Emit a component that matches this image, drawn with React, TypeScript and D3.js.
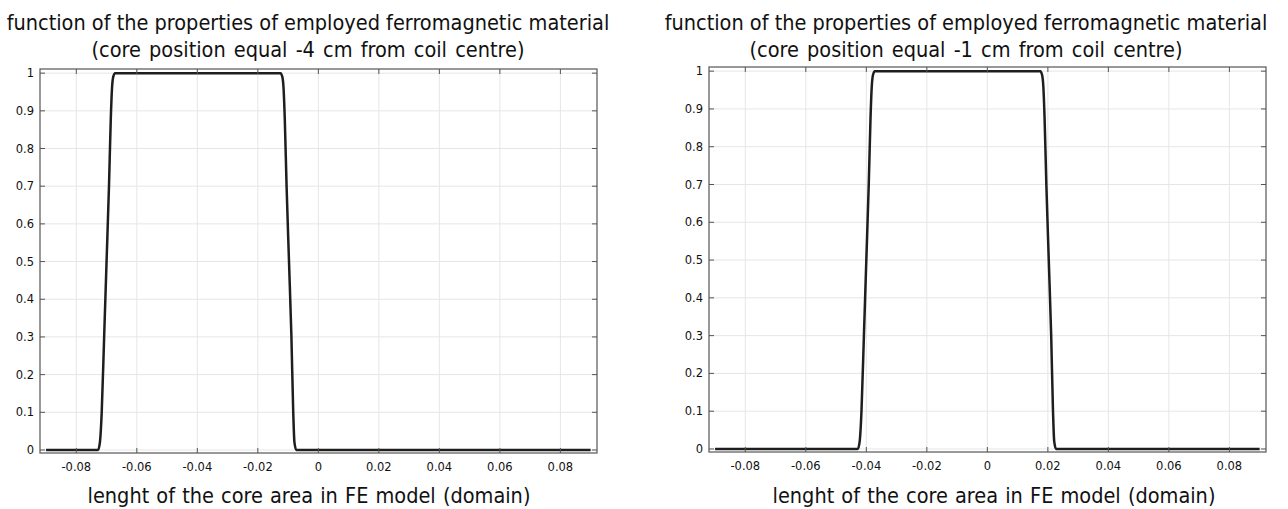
import * as React from "react";
import * as d3 from "d3";

// x positions of the sampled curve (m) and the relative permeability factor
const posLeft = [-0.09, -0.0728, -0.0722, -0.0716, -0.0708, -0.07, -0.0692, -0.0686, -0.0682, -0.0678, -0.0672, -0.0125, -0.0119, -0.0115, -0.0111, -0.0105, -0.0097, -0.0089, -0.0083, -0.0079, -0.0073, 0.09];
const valLeft = [0, 0, 0.02, 0.1, 0.3, 0.5, 0.7, 0.88, 0.96, 0.99, 1, 1, 0.99, 0.96, 0.88, 0.7, 0.5, 0.3, 0.1, 0.02, 0, 0];

const posRight = [-0.09, -0.0428, -0.0422, -0.0416, -0.0408, -0.04, -0.0392, -0.0386, -0.0382, -0.0378, -0.0372, 0.0175, 0.0181, 0.0185, 0.0189, 0.0195, 0.0203, 0.0211, 0.0217, 0.0221, 0.0227, 0.09];
const valRight = [0, 0, 0.02, 0.1, 0.3, 0.5, 0.7, 0.88, 0.96, 0.99, 1, 1, 0.99, 0.96, 0.88, 0.7, 0.5, 0.3, 0.1, 0.02, 0, 0];

const xTicks = [-0.08, -0.06, -0.04, -0.02, 0, 0.02, 0.04, 0.06, 0.08];
const xTickLabels = ["-0.08", "-0.06", "-0.04", "-0.02", "0", "0.02", "0.04", "0.06", "0.08"];
const yTicks = [0, 0.1, 0.2, 0.3, 0.4, 0.5, 0.6, 0.7, 0.8, 0.9, 1];
const yTickLabels = ["0", "0.1", "0.2", "0.3", "0.4", "0.5", "0.6", "0.7", "0.8", "0.9", "1"];

const titleLine1 = "function of the properties of employed ferromagnetic material";
const titleLeft = "(core position equal -4 cm from coil centre)";
const titleRight = "(core position equal -1 cm from coil centre)";
const xLabel = "lenght of the core area in FE model (domain)";

const titleFont = "'DejaVu Sans Condensed', sans-serif";
const tickFont = "'DejaVu Sans', Verdana, sans-serif";

interface PanelProps {
  xs: number[];
  ys: number[];
  subtitle: string;
  left: number;
  right: number;
  top: number;
  bottom: number;
  titleX: number;
  labelX: number;
}

const Panel = ({ xs, ys, subtitle, left, right, top, bottom, titleX, labelX }: PanelProps) => {
  const x = d3.scaleLinear().domain([-0.092, 0.0921]).range([left, right]);
  const y = d3.scaleLinear().domain([-0.008, 1.011]).range([bottom, top]);
  const pts = xs.map((v, i) => [v, ys[i]] as [number, number]);
  const line = d3
    .line<[number, number]>()
    .x((d) => x(d[0]))
    .y((d) => y(d[1]))
    .curve(d3.curveMonotoneX);
  const tk = 5;
  const axisColor = "#555";
  const big = 21.5;

  return (
    <g>
      <text x={titleX} y={30} textAnchor="middle" fontFamily={titleFont} fontSize={big} fill="#111">
        {titleLine1}
      </text>
      <text x={titleX} y={57} textAnchor="middle" fontFamily={titleFont} fontSize={big} fill="#111" wordSpacing={2}>
        {subtitle}
      </text>

      {/* grid */}
      {xTicks.map((t) => (
        <line key={"gx" + t} x1={x(t)} x2={x(t)} y1={top} y2={bottom} stroke="#e6e6e6" />
      ))}
      {yTicks.map((t) => (
        <line key={"gy" + t} x1={left} x2={right} y1={y(t)} y2={y(t)} stroke="#e6e6e6" />
      ))}

      {/* curve */}
      <path d={line(pts) || ""} fill="none" stroke="#1e1e1e" strokeWidth={2.5} strokeLinejoin="round" />

      {/* frame */}
      <rect x={left} y={top} width={right - left} height={bottom - top} fill="none" stroke={axisColor} strokeWidth={1.2} />

      {/* ticks on all sides, inward */}
      {xTicks.map((t, i) => (
        <g key={"xt" + t}>
          <line x1={x(t)} x2={x(t)} y1={bottom} y2={bottom - tk} stroke={axisColor} />
          <line x1={x(t)} x2={x(t)} y1={top} y2={top + tk} stroke={axisColor} />
          <text x={x(t)} y={bottom + 18} textAnchor="middle" fontFamily={tickFont} fontSize={11.5} fill="#111">
            {xTickLabels[i]}
          </text>
        </g>
      ))}
      {yTicks.map((t, i) => (
        <g key={"yt" + t}>
          <line x1={left} x2={left + tk} y1={y(t)} y2={y(t)} stroke={axisColor} />
          <line x1={right} x2={right - tk} y1={y(t)} y2={y(t)} stroke={axisColor} />
          <text x={left - 6} y={y(t) + 4} textAnchor="end" fontFamily={tickFont} fontSize={11.5} fill="#111">
            {yTickLabels[i]}
          </text>
        </g>
      ))}

      <text x={labelX} y={503} textAnchor="middle" fontFamily={titleFont} fontSize={big} fill="#111" wordSpacing={1}>
        {xLabel}
      </text>
    </g>
  );
};

const App = () => {
  return (
    <svg
      width={1288}
      height={509}
      style={{ position: "absolute", left: 0, top: 0, background: "#fff" }}
    >
      <Panel xs={posLeft} ys={valLeft} subtitle={titleLeft} left={40} right={597} top={69} bottom={453} titleX={308} labelX={309} />
      <Panel xs={posRight} ys={valRight} subtitle={titleRight} left={709} right={1266} top={67} bottom={452} titleX={966} labelX={994} />
    </svg>
  );
};

export default App;
